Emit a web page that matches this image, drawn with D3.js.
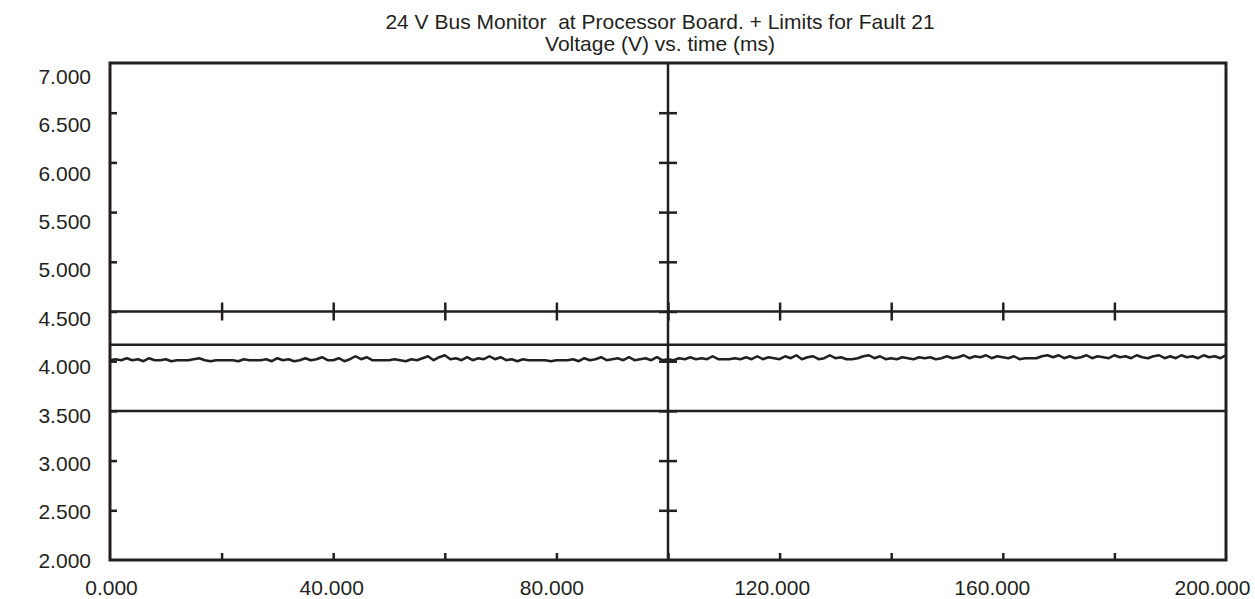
<!DOCTYPE html>
<html>
<head>
<meta charset="utf-8">
<script src="https://cdnjs.cloudflare.com/ajax/libs/d3/7.8.5/d3.min.js"></script>
<style>
  body { margin: 0; background: #ffffff; }
  text { font-family: "Liberation Sans", Arial, Helvetica, sans-serif; fill: #231f20; }
  .title { white-space: pre; }
</style>
</head>
<body>
<div id="chart"></div>
<script>
var titleLines = ["24 V Bus Monitor  at Processor Board. + Limits for Fault 21", "Voltage (V) vs. time (ms)"];

var xTicks = [0, 20, 40, 60, 80, 100, 120, 140, 160, 180, 200];
var xLabels = [0, 40, 80, 120, 160, 200];
var yTicks = [2.0, 2.5, 3.0, 3.5, 4.0, 4.5, 5.0, 5.5, 6.0, 6.5, 7.0];

// fault 21 limits (V)
var limitValues = [4.5, 4.165, 3.5];

// bus monitor reading, one sample per ms
var timeMs = d3.range(0, 201);
var voltage = [
  4.01, 4.02, 4.01, 4.03, 4.01, 4.02, 4.00, 4.03, 4.01, 4.01,
  4.02, 4.00, 4.01, 4.01, 4.01, 4.02, 4.03, 4.01, 4.00, 4.01,
  4.01, 4.01, 4.01, 4.00, 4.02, 4.01, 4.01, 4.01, 4.02, 4.00,
  4.03, 4.01, 4.02, 4.00, 4.01, 4.03, 4.01, 4.02, 4.04, 4.01,
  4.01, 4.03, 4.00, 4.02, 4.05, 4.02, 4.04, 4.01, 4.01, 4.01,
  4.01, 4.02, 4.01, 4.00, 4.02, 4.01, 4.03, 4.05, 4.01, 4.04,
  4.06, 4.02, 4.03, 4.01, 4.04, 4.01, 4.03, 4.02, 4.05, 4.02,
  4.04, 4.01, 4.02, 4.00, 4.02, 4.01, 4.01, 4.01, 4.01, 4.00,
  4.01, 4.01, 4.01, 4.02, 4.00, 4.03, 4.01, 4.02, 4.04, 4.01,
  4.02, 4.03, 4.01, 4.04, 4.01, 4.02, 4.03, 4.01, 4.04, 4.01,
  4.02,
  4.01, 4.03, 4.02, 4.04, 4.02, 4.03, 4.02, 4.05, 4.02, 4.02,
  4.02, 4.03, 4.02, 4.04, 4.02, 4.05, 4.02, 4.04, 4.03, 4.02,
  4.05, 4.03, 4.06, 4.02, 4.04, 4.05, 4.02, 4.03, 4.06, 4.03,
  4.04, 4.02, 4.02, 4.03, 4.05, 4.06, 4.03, 4.05, 4.02, 4.03,
  4.02, 4.04, 4.03, 4.02, 4.04, 4.03, 4.04, 4.02, 4.03, 4.05,
  4.03, 4.04, 4.06, 4.03, 4.05, 4.04, 4.06, 4.03, 4.05, 4.04,
  4.03, 4.05, 4.02, 4.03, 4.03, 4.03, 4.05, 4.06, 4.04, 4.06,
  4.03, 4.05, 4.03, 4.04, 4.06, 4.03, 4.05, 4.04, 4.03, 4.06,
  4.04, 4.05, 4.03, 4.06, 4.04, 4.03, 4.05, 4.06, 4.03, 4.05,
  4.03, 4.06, 4.04, 4.05, 4.03, 4.06, 4.04, 4.05, 4.03, 4.06
];

var width = 1255,
    height = 599,
    margin = {top: 63, left: 110, right: 29, bottom: 39},
    ink = "#231f20";

var svg = d3.select("#chart")
    .append("svg")
    .attr("width", width)
    .attr("height", height);

var x = d3.scaleLinear()
    .domain([0, 200])
    .range([margin.left, width - margin.right]);

var y = d3.scaleLinear()
    .domain([2, 7])
    .range([height - margin.bottom, margin.top]);

// the plotter printed its labels on a slightly shorter scale than the frame
var xLab = d3.scaleLinear().domain([0, 200]).range([111, 1212]);
var yLab = d3.scaleLinear().domain([2, 7]).range([560.5, 76.5]);

var fmt = d3.format(".3f");

svg.selectAll(".title")
    .data(titleLines)
    .enter().append("text")
    .attr("class", "title")
    .attr("x", 660)
    .attr("y", function(d, i){ return 29 + i * 22; })
    .attr("text-anchor", "middle")
    .style("font-size", "21px")
    .text(function(d){ return d; });

// inner ticks on left and bottom edges
svg.append("g")
    .attr("transform", "translate(" + x(0) + ",0)")
    .call(d3.axisLeft(y).tickValues(yTicks.slice(1, -1)).tickSize(-7).tickFormat(""))
    .call(function(g){ g.select(".domain").remove(); })
    .selectAll("line").attr("stroke", ink).attr("stroke-width", 2.5);

svg.append("g")
    .attr("transform", "translate(0," + y(2) + ")")
    .call(d3.axisBottom(x).tickValues(xTicks.slice(1, -1)).tickSize(-7).tickFormat(""))
    .call(function(g){ g.select(".domain").remove(); })
    .selectAll("line").attr("stroke", ink).attr("stroke-width", 2.5);

// tick labels
svg.append("g")
    .attr("transform", "translate(" + x(0) + ",0)")
    .call(d3.axisLeft(yLab).tickValues(yTicks).tickSize(0).tickPadding(19).tickFormat(fmt))
    .call(function(g){ g.select(".domain").remove(); })
    .selectAll("text").style("font-size", "21px").attr("fill", ink);

svg.append("g")
    .attr("transform", "translate(0," + y(2) + ")")
    .call(d3.axisBottom(xLab).tickValues(xLabels).tickSize(0).tickPadding(20).tickFormat(fmt))
    .call(function(g){ g.select(".domain").remove(); })
    .selectAll("text").style("font-size", "21px").attr("fill", ink);

// centre cross axes: x = 100 ms and y = 4.5 V
svg.append("g")
    .attr("transform", "translate(" + (x(100) - 9) + ",0)")
    .call(d3.axisLeft(y).tickValues(yTicks.slice(1, -1)).tickSize(-18).tickFormat(""))
    .call(function(g){ g.select(".domain").remove(); })
    .selectAll("line").attr("stroke", ink).attr("stroke-width", 2.5);

svg.append("g")
    .attr("transform", "translate(0," + (y(4.5) - 9) + ")")
    .call(d3.axisBottom(x).tickValues(xTicks.slice(1, -1)).tickSize(18).tickFormat(""))
    .call(function(g){ g.select(".domain").remove(); })
    .selectAll("line").attr("stroke", ink).attr("stroke-width", 2.5);

svg.append("line")
    .attr("x1", x(100)).attr("x2", x(100))
    .attr("y1", y(7)).attr("y2", y(2))
    .attr("stroke", ink)
    .attr("stroke-width", 2.5);

svg.selectAll(".limit")
    .data(limitValues)
    .enter().append("line")
    .attr("class", "limit")
    .attr("x1", x(0)).attr("x2", x(200))
    .attr("y1", function(d){ return y(d); })
    .attr("y2", function(d){ return y(d); })
    .attr("stroke", ink)
    .attr("stroke-width", 2.5);

var line = d3.line()
    .x(function(d, i){ return x(timeMs[i]); })
    .y(function(d){ return y(d); });

svg.append("path")
    .datum(voltage)
    .attr("d", line)
    .attr("fill", "none")
    .attr("stroke", ink)
    .attr("stroke-width", 2.5)
    .attr("stroke-linejoin", "round");

svg.append("rect")
    .attr("x", x(0))
    .attr("y", y(7))
    .attr("width", x(200) - x(0))
    .attr("height", y(2) - y(7))
    .attr("fill", "none")
    .attr("stroke", ink)
    .attr("stroke-width", 3);
</script>
</body>
</html>
